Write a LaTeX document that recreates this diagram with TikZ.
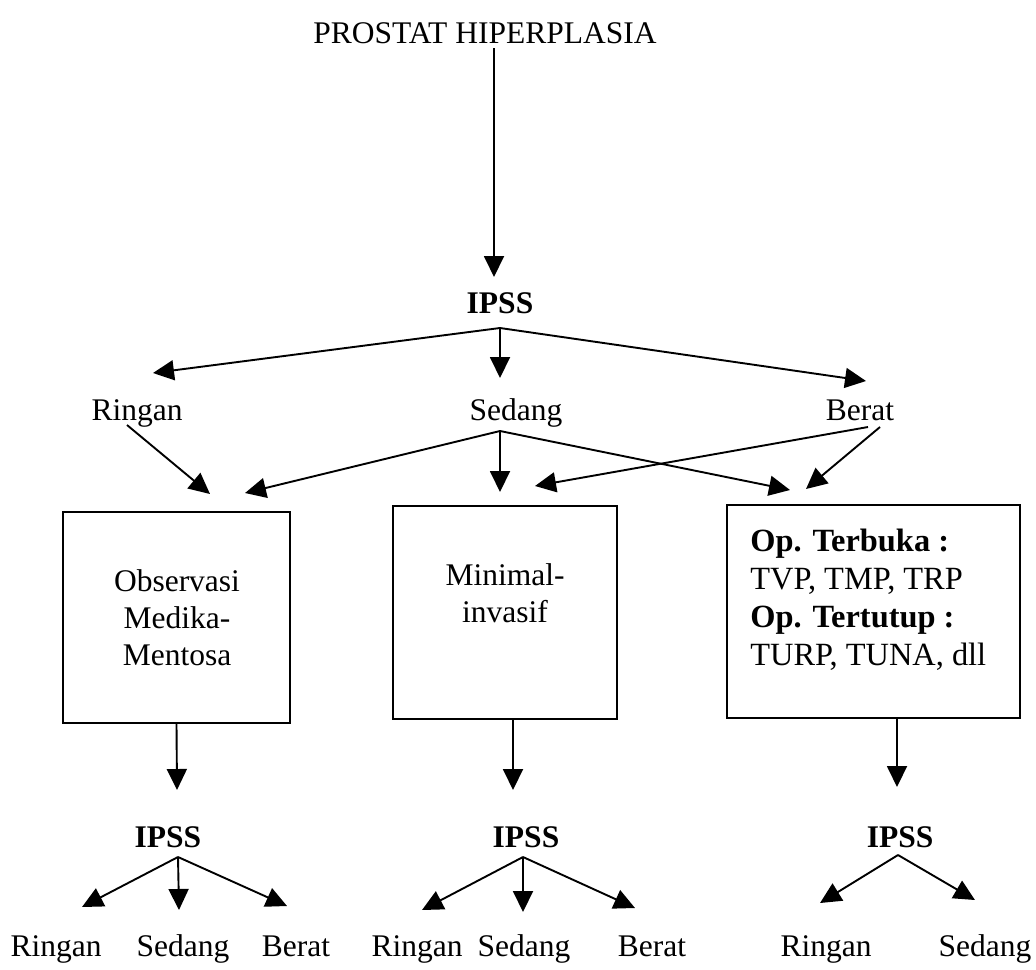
\documentclass[tikz,border=0pt]{standalone}
\usepackage{fontspec}
\setmainfont{Liberation Serif}
\usetikzlibrary{arrows.meta}
\begin{document}
\begin{tikzpicture}[x=0.5pt,y=-0.5pt,
  txt/.style={inner sep=0pt, font=\fontsize{15.75pt}{18.5pt}\selectfont},
  boldtxt/.style={inner sep=0pt, font=\fontsize{15.75pt}{18.5pt}\selectfont\bfseries},
  bx/.style={draw, line width=0.85pt, inner sep=0pt},
  arr/.style={line width=0.95pt, -{Triangle[length=10.5pt,width=10pt]}}]
\fill[white] (0,0) rectangle (1036,969);
\useasboundingbox (0,0) rectangle (1036,969);

% top
\node[txt, anchor=base] (title) at (485,43) {PROSTAT HIPERPLASIA};
\node[boldtxt, anchor=base] (ipss0) at (500,313) {IPSS};
\coordinate (a0) at (494,48);
\coordinate (a1) at (494,277);
\draw[arr] (a0) -- (a1);

% first level
\node[txt, anchor=base] (r0) at (137,420) {Ringan};
\node[txt, anchor=base] (s0) at (516,420) {Sedang};
\node[txt, anchor=base] (br0) at (860,420) {Berat};
\coordinate (f0) at (500,328);
\coordinate (f0l) at (153,373);
\coordinate (f0d) at (500,378);
\coordinate (f0r) at (866,381);
\draw[arr] (f0) -- (f0l);
\draw[arr] (f0) -- (f0d);
\draw[arr] (f0) -- (f0r);

% boxes
\node[bx, minimum width=113.5pt, minimum height=105.5pt] (b1) at (176.5,617.5) {};
\node[bx, minimum width=112pt, minimum height=106.5pt] (b2) at (505,612.5) {};
\node[bx, minimum width=146.5pt, minimum height=106.5pt] (b3) at (873.5,611.5) {};
\node[txt, align=center, anchor=north] (t1) at (177,569) {Observasi\\Medika-\\Mentosa};
\node[txt, align=center, anchor=north] (t2) at (505,563) {Minimal-\\invasif};
\node[inner sep=0pt, font=\fontsize{16.2pt}{19pt}\selectfont, align=left, anchor=north west] (t3) at (750,529)
  {\textbf{Op. Terbuka :}\\TVP, TMP, TRP\\\textbf{Op. Tertutup :}\\TURP, TUNA, dll};

% second level arrows
\coordinate (rs) at (127,425);
\coordinate (rt) at (210,494);
\draw[arr] (rs) -- (rt);
\coordinate (ss) at (500,431);
\coordinate (sl) at (245,493);
\coordinate (sd) at (500,492);
\coordinate (sr) at (790,490);
\draw[arr] (ss) -- (sl);
\draw[arr] (ss) -- (sd);
\draw[arr] (ss) -- (sr);
\coordinate (bs1) at (868,427);
\coordinate (bt1) at (535,486);
\coordinate (bs2) at (880,427);
\coordinate (bt2) at (806,489);
\draw[arr] (bs1) -- (bt1);
\draw[arr] (bs2) -- (bt2);

% arrows below boxes
\coordinate (d1) at (177,790);
\coordinate (d2s) at (513,719);
\coordinate (d2) at (513,790);
\coordinate (d3s) at (897,718);
\coordinate (d3) at (897,787);
\draw[arr] (b1.south) -- (d1);
\draw[arr] (d2s) -- (d2);
\draw[arr] (d3s) -- (d3);

% bottom IPSS
\node[boldtxt, anchor=base] (ipss1) at (168,847) {IPSS};
\node[boldtxt, anchor=base] (ipss2) at (526,847) {IPSS};
\node[boldtxt, anchor=base] (ipss3) at (900,847) {IPSS};

% bottom labels
\node[txt, anchor=base] (r1) at (56,956) {Ringan};
\node[txt, anchor=base] (s1) at (183,956) {Sedang};
\node[txt, anchor=base] (br1) at (296,956) {Berat};
\node[txt, anchor=base] (r2) at (417,956) {Ringan};
\node[txt, anchor=base] (s2) at (524,956) {Sedang};
\node[txt, anchor=base] (br2) at (652,956) {Berat};
\node[txt, anchor=base] (r3) at (826,956) {Ringan};
\node[txt, anchor=base] (s3) at (985,956) {Sedang};

% bottom forks
\coordinate (g1) at (178,857);
\coordinate (g1l) at (82,907);
\coordinate (g1d) at (179,910);
\coordinate (g1r) at (287,906);
\draw[arr] (g1) -- (g1l);
\draw[arr] (g1) -- (g1d);
\draw[arr] (g1) -- (g1r);
\coordinate (g2) at (523,857);
\coordinate (g2l) at (422,910);
\coordinate (g2d) at (523,912);
\coordinate (g2r) at (635,908);
\draw[arr] (g2) -- (g2l);
\draw[arr] (g2) -- (g2d);
\draw[arr] (g2) -- (g2r);
\coordinate (g3) at (898,855);
\coordinate (g3l) at (820,903);
\coordinate (g3r) at (975,900);
\draw[arr] (g3) -- (g3l);
\draw[arr] (g3) -- (g3r);
\end{tikzpicture}
\end{document}
